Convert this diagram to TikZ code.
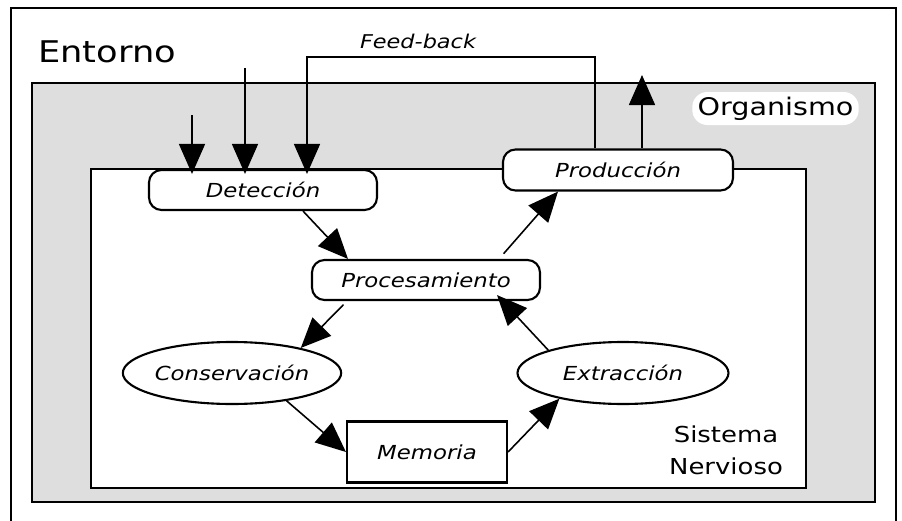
\documentclass[tikz,border=0pt]{standalone}
\usepackage{fontspec}
\setmainfont[FakeStretch=1.18]{DejaVu Sans}
\usepackage{tikz}
\usetikzlibrary{shapes}
\usetikzlibrary{arrows.meta}
\usetikzlibrary{positioning}
\definecolor{fondo}{gray}{0.87}
\tikzstyle{marco}=[draw,line width=1.2pt]
\tikzstyle{proceso}=[
        draw,
        rectangle,
        rounded corners=0.25cm,
        line width=1.2pt,
        fill=white,
        inner sep=0pt,
        minimum height=0.8cm,
        font=\fontsize{11}{13}\selectfont\itshape
]
\tikzstyle{fase}=[ellipse,draw,fill=white,line width=1.2pt,inner sep=0pt,
minimum width=4.2cm,minimum height=1.24cm,font=\fontsize{11}{13}\selectfont\itshape]
\tikzstyle{almacen}=[rectangle,draw,fill=white,line width=1.2pt,inner sep=0pt,
minimum width=3.2cm,minimum height=1.22cm,font=\fontsize{11}{13}\selectfont\itshape]
\tikzstyle{rotulo}=[inner sep=0pt,text=black]
\tikzstyle{flecha}=[-{Triangle[length=0.6cm,width=0.52cm]},line width=0.9pt]
\begin{document}
\begin{tikzpicture}
\useasboundingbox (0,0) rectangle (18.04,-10.42);
%Marcos
\draw[marco] (0.22,-10.6) |- (17.92,-0.16) -- (17.92,-10.6);
\draw[marco,fill=fondo] (0.64,-1.66) rectangle (17.5,-10.04);
\draw[marco,fill=white] (1.82,-3.38) rectangle (16.12,-9.76);
\node[rotulo,anchor=base west,font=\fontsize{17}{20}\selectfont] (ent) at (0.76,-1.24) {Entorno};
\node[rotulo,fill=white,rounded corners=0.3cm,inner xsep=3pt,minimum height=0.66cm,font=\fontsize{13.8}{16}\selectfont] (org) at (15.51,-2.17) {Organismo};
\node[rotulo,align=center,font=\fontsize{12.5}{18.4}\selectfont] (sn) at (14.52,-9.0) {Sistema\\Nervioso};
%Nodos
\node[proceso,minimum width=4.56cm] (det) at (5.26,-3.8) {Detección};
\node[proceso,minimum width=4.6cm,minimum height=0.82cm] (prod) at (12.36,-3.4) {Producción};
\node[proceso,minimum width=4.56cm] (proc) at (8.52,-5.6) {Procesamiento};
\node[fase,minimum width=4.18cm] (cons) at (4.64,-7.46) {Conservación};
\node[fase,minimum width=4.22cm] (ext) at (12.46,-7.46) {Extracción};
\node[almacen] (mem) at (8.54,-9.04) {Memoria};
\coordinate (in1) at (3.84,-2.3);
\coordinate (in2) at (4.9,-1.36);
\coordinate (fb) at (8.36,-1.14);
\coordinate (out) at (12.84,-1.5);
%Flechas
\draw[flecha] (in1) -- ([xshift=-1.42cm,yshift=-0.1cm]det.north);
\draw[flecha] (in2) -- ([xshift=-0.36cm,yshift=-0.1cm]det.north);
\draw[flecha] ([xshift=-0.46cm]prod.north) |- (fb) -| ([xshift=0.88cm,yshift=-0.1cm]det.north);
\node[rotulo,anchor=base,font=\fontsize{10.8}{13}\selectfont\itshape] at ([yshift=0.18cm]fb) {Feed-back};
\draw[flecha] ([xshift=0.48cm]prod.north) -- (out);
\draw[flecha] ([xshift=0.8cm]det.south) -- ([xshift=-1.56cm]proc.north);
\draw[flecha,shorten <=0.14cm] ([xshift=1.46cm]proc.north) -- ([xshift=-1.2cm]prod.south);
\draw[flecha,shorten <=0.1cm] ([xshift=-1.58cm]proc.south) -- (cons.20);
\draw[flecha] (cons.-27) -- (mem.west);
\draw[flecha] (mem.east) -- (ext.202);
\draw[flecha] (ext.163) -- ([xshift=1.42cm,yshift=0.12cm]proc.south);
\end{tikzpicture}
\end{document}
